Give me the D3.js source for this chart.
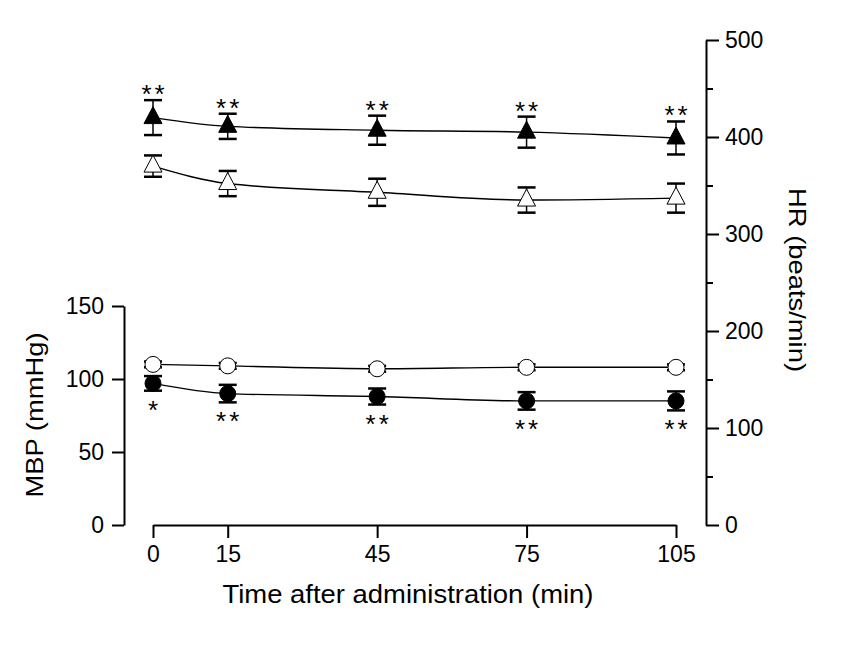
<!DOCTYPE html>
<html>
<head>
<meta charset="utf-8">
<script src="https://cdn.jsdelivr.net/npm/d3@7"></script>
<style>
  body { margin: 0; background: #fff; }
  text { font-family: Arial, "Liberation Sans", sans-serif; fill: #000; }
</style>
</head>
<body>
<svg id="chart" width="856" height="645"></svg>
<script>
// data
const times = [0, 15, 45, 75, 105];
const hrTreated = [420, 411, 407, 405, 399];
const hrTreatedSE = [18, 13, 15, 16, 17];
const hrControl = [370, 352, 343, 335, 337];
const hrControlSE = [11, 13, 14, 13, 15];
const mbpControl = [110, 109, 107, 108, 108];
const mbpControlSE = [2, 2, 2, 2, 2];
const mbpTreated = [97, 90, 88, 85, 85];
const mbpTreatedSE = [5, 6, 5.5, 6, 6.5];
const hrSig = ["**", "**", "**", "**", "**"];
const mbpSig = ["*", "**", "**", "**", "**"];
const bpTicks = [0, 50, 100, 150];
const hrTicks = [0, 50, 100, 150, 200, 250, 300, 350, 400, 450, 500];

const svg = d3.select("#chart");

const x = d3.scaleLinear().domain([0, 105]).range([153, 676]);
const yBP = d3.scaleLinear().domain([0, 150]).range([525, 306]);
const yHR = d3.scaleLinear().domain([0, 500]).range([525, 40]);

// axes
const xAxis = svg.append("g")
    .attr("transform", "translate(0,525)")
    .call(d3.axisBottom(x).tickValues(times).tickSize(13).tickSizeOuter(0).tickPadding(8));

const leftAxis = svg.append("g")
    .attr("transform", "translate(124,0)")
    .call(d3.axisLeft(yBP).tickValues(bpTicks).tickSize(12).tickSizeOuter(0).tickPadding(8));

const rightAxis = svg.append("g")
    .attr("transform", "translate(706,0)")
    .call(d3.axisRight(yHR).tickValues(hrTicks).tickSize(13).tickSizeOuter(0).tickPadding(6)
        .tickFormat(d => d % 100 === 0 ? d : ""));
rightAxis.selectAll(".tick").filter(d => d % 100 !== 0).select("line").attr("x2", 7);

[xAxis, leftAxis, rightAxis].forEach(g => {
    g.attr("font-size", null).attr("font-family", null);
    g.selectAll("path, line").attr("stroke", "#000").attr("stroke-width", 2);
    g.selectAll("text").attr("font-size", 23).attr("fill", "#000");
});

// axis titles
svg.append("text")
    .attr("x", 408).attr("y", 603)
    .attr("text-anchor", "middle")
    .attr("font-size", 25)
    .attr("textLength", 371).attr("lengthAdjust", "spacingAndGlyphs")
    .text("Time after administration (min)");

svg.append("text")
    .attr("transform", "translate(43,415) rotate(-90)")
    .attr("text-anchor", "middle")
    .attr("font-size", 24)
    .attr("textLength", 165).attr("lengthAdjust", "spacingAndGlyphs")
    .text("MBP (mmHg)");

svg.append("text")
    .attr("transform", "translate(789,280) rotate(90)")
    .attr("text-anchor", "middle")
    .attr("font-size", 24)
    .attr("textLength", 184).attr("lengthAdjust", "spacingAndGlyphs")
    .text("HR (beats/min)");

// series
const series = [
    {vals: hrTreated, se: hrTreatedSE, y: yHR, shape: "triangle", fill: "#000"},
    {vals: hrControl, se: hrControlSE, y: yHR, shape: "triangle", fill: "#fff"},
    {vals: mbpControl, se: mbpControlSE, y: yBP, shape: "circle", fill: "#fff"},
    {vals: mbpTreated, se: mbpTreatedSE, y: yBP, shape: "circle", fill: "#000"}
];

const capHalf = 9;
const triPath = "M0,-11L9,6L-9,6Z";

series.forEach(s => {
    const pts = times.map((t, i) => ({t: t, v: s.vals[i], se: s.se[i]}));

    svg.append("path")
        .datum(pts)
        .attr("fill", "none")
        .attr("stroke", "#000")
        .attr("stroke-width", 1.4)
        .attr("d", d3.line().x(d => x(d.t)).y(d => s.y(d.v)).curve(d3.curveMonotoneX));

    const eb = svg.append("g").selectAll("g").data(pts).join("g");
    eb.append("line")
        .attr("x1", d => x(d.t)).attr("x2", d => x(d.t))
        .attr("y1", d => s.y(d.v + d.se)).attr("y2", d => s.y(d.v - d.se))
        .attr("stroke", "#000").attr("stroke-width", 1.5);
    [1, -1].forEach(sign => {
        eb.append("line")
            .attr("x1", d => x(d.t) - capHalf).attr("x2", d => x(d.t) + capHalf)
            .attr("y1", d => s.y(d.v + sign * d.se)).attr("y2", d => s.y(d.v + sign * d.se))
            .attr("stroke", "#000").attr("stroke-width", 2.5);
    });

    const m = svg.append("g").selectAll("path").data(pts).join("path")
        .attr("transform", d => `translate(${x(d.t)},${s.y(d.v)})`)
        .attr("fill", s.fill)
        .attr("stroke", "#000")
        .attr("stroke-width", 1);
    if (s.shape === "triangle") m.attr("d", triPath);
    else m.attr("d", d3.symbol(d3.symbolCircle, Math.PI * 8 * 8)());
});

// significance marks
svg.append("g").selectAll("text").data(times).join("text")
    .attr("x", d => x(d) + 1.5)
    .attr("y", (d, i) => yHR(hrTreated[i] + hrTreatedSE[i]) + 3)
    .attr("text-anchor", "middle")
    .attr("font-size", 26)
    .attr("letter-spacing", 3)
    .attr("fill", "#333")
    .text((d, i) => hrSig[i]);

svg.append("g").selectAll("text").data(times).join("text")
    .attr("x", d => x(d) + 1.5)
    .attr("y", (d, i) => yBP(mbpTreated[i] - mbpTreatedSE[i]) + 28)
    .attr("text-anchor", "middle")
    .attr("font-size", 26)
    .attr("letter-spacing", 3)
    .attr("fill", "#333")
    .text((d, i) => mbpSig[i]);
</script>
</body>
</html>
